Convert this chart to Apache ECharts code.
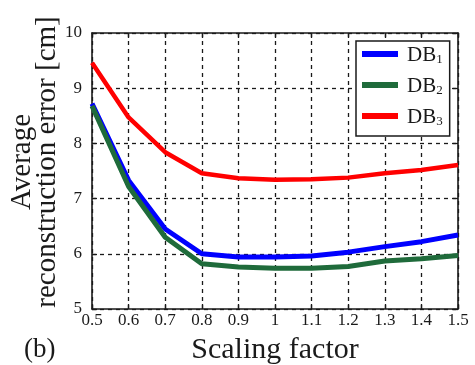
<!DOCTYPE html>
<html>
<head>
<meta charset="utf-8">
<script src="https://cdn.jsdelivr.net/npm/echarts@6/dist/echarts.min.js"></script>
<style>
  html, body { margin: 0; padding: 0; background: #fff; }
  #chart { width: 475px; height: 365px; }
</style>
</head>
<body>
<div id="chart"></div>
<script>
// Scaling factor values along the x axis
const scalingFactors = ['0.5', '0.6', '0.7', '0.8', '0.9', '1', '1.1', '1.2', '1.3', '1.4', '1.5'];

// Average reconstruction error [cm] for each database
const db1Error = [8.72, 7.33, 6.45, 6.00, 5.94, 5.94, 5.96, 6.03, 6.13, 6.22, 6.34];
const db2Error = [8.68, 7.22, 6.30, 5.82, 5.76, 5.74, 5.74, 5.77, 5.87, 5.91, 5.97];
const db3Error = [9.46, 8.47, 7.84, 7.46, 7.37, 7.34, 7.35, 7.38, 7.46, 7.52, 7.61];

const seriesNames = ['DB1', 'DB2', 'DB3'];
const seriesColors = ['#0000ff', '#1f6b3b', '#ff0000'];

const serif = 'Liberation Serif, Times New Roman, serif';
const ink = '#1a1a1a';

const chart = echarts.init(document.getElementById('chart'), null, { renderer: 'canvas' });

const gridLine = { show: true, lineStyle: { color: ink, width: 1.3, type: [4, 4] } };
const boxLine = { show: true, onZero: false, lineStyle: { color: ink, width: 1.6 } };
const innerTick = { show: true, inside: true, length: 5, lineStyle: { color: ink, width: 1.3 } };

chart.setOption({
  backgroundColor: '#fff',
  animation: false,
  grid: { left: 92, right: 17, top: 33, bottom: 56, outerBoundsMode: 'none', containLabel: false },
  xAxis: [
    {
      type: 'category',
      data: scalingFactors,
      boundaryGap: false,
      name: 'Scaling factor',
      nameLocation: 'middle',
      nameGap: 26,
      nameMoveOverlap: false,
      nameTextStyle: { fontFamily: serif, fontSize: 30, color: ink },
      axisLine: boxLine,
      axisTick: innerTick,
      axisLabel: { fontFamily: serif, fontSize: 17, color: ink, margin: 3 },
      splitLine: gridLine
    },
    {
      type: 'category',
      data: scalingFactors,
      boundaryGap: false,
      position: 'top',
      axisLine: boxLine,
      axisTick: innerTick,
      axisLabel: { show: false },
      splitLine: { show: false }
    }
  ],
  yAxis: [
    {
      type: 'value',
      min: 5,
      max: 10,
      interval: 1,
      name: 'Average\nreconstruction error [cm]',
      nameLocation: 'middle',
      nameRotate: 90,
      nameGap: 32,
      nameMoveOverlap: false,
      nameTextStyle: { fontFamily: serif, fontSize: 29, lineHeight: 25, color: ink, padding: [0, 0, 0, 18] },
      axisLine: boxLine,
      axisTick: innerTick,
      axisLabel: { fontFamily: serif, fontSize: 17, color: ink, margin: 10 },
      splitLine: gridLine
    },
    {
      type: 'value',
      min: 5,
      max: 10,
      interval: 1,
      position: 'right',
      axisLine: boxLine,
      axisTick: innerTick,
      axisLabel: { show: false },
      splitLine: { show: false }
    }
  ],
  legend: {
    orient: 'vertical',
    left: 356,
    top: 41,
    data: seriesNames,
    icon: 'rect',
    itemWidth: 36,
    itemHeight: 6,
    itemGap: 7,
    padding: [1, 7, 8, 6],
    borderColor: ink,
    borderWidth: 1.5,
    backgroundColor: '#fff',
    formatter: name => '{b|' + name.slice(0, 2) + '}{s|' + name.slice(2) + '}',
    textStyle: {
      fontFamily: serif,
      color: ink,
      rich: {
        b: { fontFamily: serif, fontSize: 21, lineHeight: 24, color: ink, verticalAlign: 'bottom', padding: [0, 0, 0, 4] },
        s: { fontFamily: serif, fontSize: 13, lineHeight: 24, color: ink, verticalAlign: 'bottom', padding: [11, 0, 0, 0] }
      }
    }
  },
  graphic: [
    {
      type: 'text',
      left: 24,
      top: 336,
      style: { text: '(b)', fontFamily: serif, fontSize: 27, fill: ink }
    }
  ],
  series: [
    { name: seriesNames[0], type: 'line', data: db1Error, color: seriesColors[0], showSymbol: false, lineStyle: { width: 5 }, z: 3 },
    { name: seriesNames[1], type: 'line', data: db2Error, color: seriesColors[1], showSymbol: false, lineStyle: { width: 5 }, z: 4 },
    { name: seriesNames[2], type: 'line', data: db3Error, color: seriesColors[2], showSymbol: false, lineStyle: { width: 4.5 }, z: 3 }
  ]
});
</script>
</body>
</html>
